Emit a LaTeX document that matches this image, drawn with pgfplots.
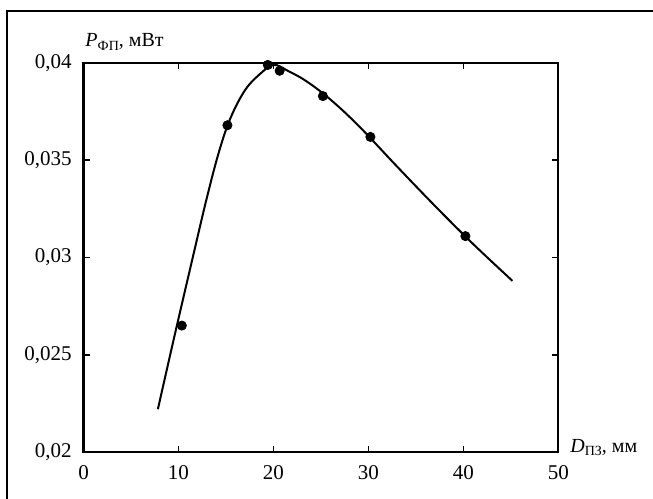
\documentclass[border=0pt]{standalone}
\usepackage{pgfplots}
\pgfplotsset{compat=1.18}
\usepackage{fontspec}
\setmainfont{Liberation Serif}
\begin{document}
\begin{tikzpicture}
\useasboundingbox (-41.75pt,-23pt) rectangle (284.75pt,226pt);
\draw[line width=1pt] (-38.25pt,-40pt) -- (-38.25pt,220.5pt) -- (300pt,220.5pt);
\begin{axis}[
  at={(0pt,0pt)}, anchor=south west,
  scale only axis, width=237.5pt, height=194.5pt,
  xmin=0, xmax=50, ymin=0.02, ymax=0.04,
  xtick={0,10,20,30,40,50},
  ytick={0.02,0.025,0.03,0.035,0.04},
  tick align=inside, major tick length=3pt,
  axis line style={line width=1pt},
  every tick/.style={line width=0.8pt, black},
  scaled y ticks=false,
  /pgf/number format/assume math mode=true,
  ticklabel style={font=\fontsize{10.5}{12}\selectfont},
  xticklabel style={yshift=-3pt},
  yticklabel style={xshift=-2.4pt, /pgf/number format/.cd, fixed, precision=3, use comma},
  clip=false,
]
\addplot[black, line width=1pt, smooth, tension=0.6] coordinates {
(7.83,0.0222) (9.5,0.0258) (11.5,0.0300) (13.0,0.0331) (14.3,0.0355)
(15.5,0.0372) (17.0,0.0386) (18.5,0.0394) (20.0,0.03990) (21.5,0.0396)
(23.5,0.03905) (26.0,0.03812) (29.0,0.03675) (33.0,0.03468) (37.0,0.03265)
(41.0,0.03070) (45.15,0.0288)
};
\addplot[only marks, mark=*, mark size=2.3pt, black] coordinates {
(10.35,0.0265) (15.15,0.0368) (19.4,0.0399) (20.65,0.0396)
(25.2,0.0383) (30.2,0.0362) (40.2,0.0311)
};
\node[anchor=base west, inner sep=0pt, font=\fontsize{10}{12}\selectfont]
  at (rel axis cs:0,1) [xshift=0.8pt, yshift=8pt]
  {\textit{P}\raisebox{-0.35ex}{\fontsize{7}{8}\selectfont ФП}, мВт};
\node[anchor=base west, inner sep=0pt, font=\fontsize{10}{12}\selectfont]
  at (rel axis cs:1,0) [xshift=5.75pt, yshift=0pt]
  {\textit{D}\raisebox{-0.35ex}{\fontsize{7}{8}\selectfont ПЗ}, мм};
\end{axis}
\end{tikzpicture}
\end{document}
